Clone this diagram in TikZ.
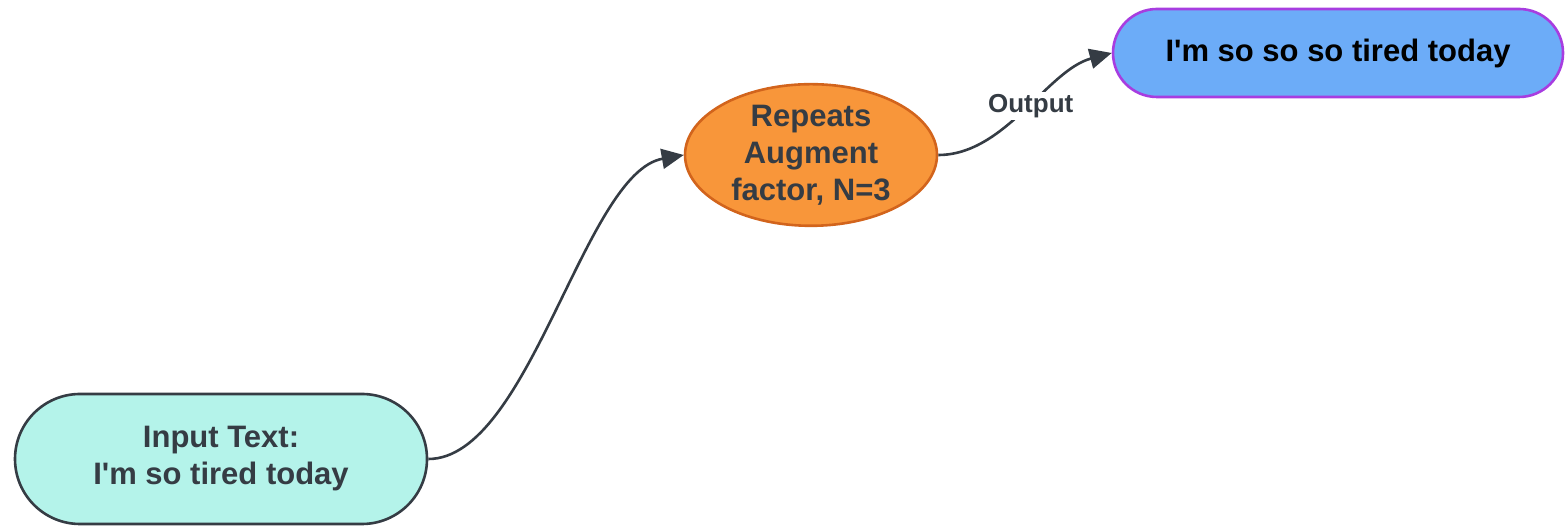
\documentclass[tikz,border=0pt]{standalone}
\usepackage{fontspec}
\setmainfont{Liberation Sans}
\usetikzlibrary{shapes.misc,shapes.geometric,arrows.meta}
\definecolor{ink}{HTML}{353C44}
\definecolor{inputfill}{HTML}{B4F3EA}
\definecolor{augfill}{HTML}{F8963A}
\definecolor{augdraw}{HTML}{D2641C}
\definecolor{outfill}{HTML}{6CACF8}
\definecolor{outdraw}{HTML}{A73DE0}
\begin{document}
\begin{tikzpicture}[x=0.5pt, y=0.5pt,
    every node/.style={font=\fontsize{15.5}{18.5}\selectfont\bfseries, text=ink, align=center},
    pill/.style={rounded rectangle, line width=1.3pt, inner sep=0pt},
    link/.style={draw=ink, line width=1.3pt, -{Triangle[length=11pt, width=10pt]}}]
            \useasboundingbox (0,0) rectangle (1566,528);
            \node[pill, draw=ink, fill=inputfill, minimum width=206pt, minimum height=65pt] (input) at (221,69) {Input Text:\\I\textquotesingle m so tired today};
            \node[ellipse, draw=augdraw, fill=augfill, line width=1.3pt, inner sep=0pt, minimum width=126pt, minimum height=70pt] (augment) at (811,373) {Repeats\\Augment\\factor, N=3};
            \node[pill, draw=outdraw, fill=outfill, text=black, minimum width=225pt, minimum height=44pt] (output) at (1338,475) {I\textquotesingle m so so so tired today};
            \draw[link] (input.east) to[out=0, in=190, looseness=0.65] (augment.west);
            \draw[link] (augment.east) to[out=0, in=195, looseness=0.85] node[pos=0.53, fill=white, inner sep=1pt, font=\fontsize{13}{15}\selectfont\bfseries] (outlabel) {Output} (output.west);

        \end{tikzpicture}
\end{document}
